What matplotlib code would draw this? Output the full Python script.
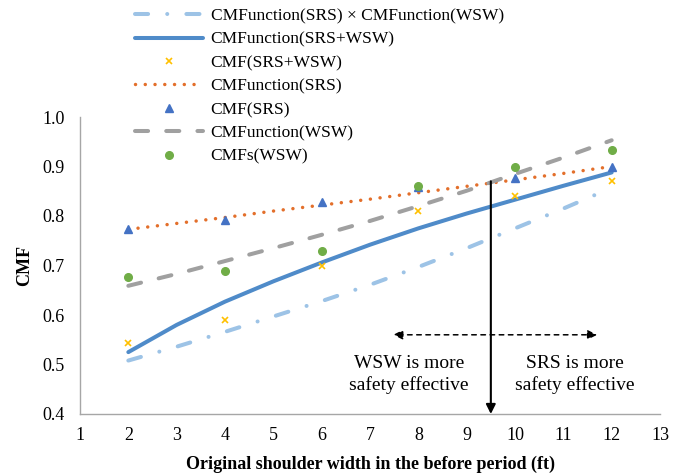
import matplotlib
matplotlib.use("Agg")
import matplotlib.pyplot as plt

plt.rcParams['font.family'] = ['Liberation Serif', 'DejaVu Serif']

# Curve x positions
x_curve = [2, 3, 4, 5, 6, 7, 8, 9, 10, 11, 12]
product_fn = [0.508, 0.536, 0.566, 0.597, 0.628, 0.661, 0.697, 0.735, 0.775, 0.815, 0.857]
combined_fn = [0.525, 0.580, 0.627, 0.668, 0.706, 0.742, 0.775, 0.805, 0.833, 0.861, 0.888]
srs_fn = [0.773, 0.785, 0.797, 0.810, 0.822, 0.834, 0.847, 0.860, 0.873, 0.886, 0.900]
wsw_fn = [0.659, 0.683, 0.709, 0.735, 0.762, 0.790, 0.820, 0.851, 0.885, 0.918, 0.953]

# Point estimates
x_pts = [2, 4, 6, 8, 10, 12]
cmf_combined = [0.544, 0.589, 0.699, 0.811, 0.841, 0.871]
cmf_srs = [0.773, 0.792, 0.828, 0.859, 0.877, 0.900]
cmf_wsw = [0.677, 0.688, 0.730, 0.861, 0.900, 0.934]

labels = ["CMFunction(SRS) × CMFunction(WSW)", "CMFunction(SRS+WSW)", "CMF(SRS+WSW)",
          "CMFunction(SRS)", "CMF(SRS)", "CMFunction(WSW)", "CMFs(WSW)"]

x_ticks = list(range(1, 14))
y_ticks = [0.4, 0.5, 0.6, 0.7, 0.8, 0.9, 1.0]

threshold_x = 9.5
threshold_y = 0.87

fig = plt.figure(figsize=(6.73, 4.76), dpi=100)
ax = fig.add_axes([80/673, 1-414/476, (660-80)/673, (414-117)/476])

h1, = ax.plot(x_curve, product_fn, color='#9DC3E6', lw=2.9, linestyle=(0, (3.25, 4.75, 0.01, 4.75)),
              dash_capstyle='round', solid_capstyle='round')
h2, = ax.plot(x_curve, combined_fn, color='#4F8BC9', lw=2.9, solid_capstyle='round')
h3, = ax.plot(x_pts, cmf_combined, linestyle='none', marker='x', color='#FFC000', ms=5, mew=1.2)
h4, = ax.plot(x_curve, srs_fn, color='#E36F2B', lw=2.5, linestyle=(0, (0.01, 2.8)), dash_capstyle='round')
h5, = ax.plot(x_pts, cmf_srs, linestyle='none', marker='^', color='#4472C4', ms=6)
h6, = ax.plot(x_curve, wsw_fn, color='#A0A0A0', lw=2.9, linestyle=(0, (3.25, 4.5)), dash_capstyle='round')
h7, = ax.plot(x_pts, cmf_wsw, linestyle='none', marker='o', color='#70AD47', ms=5.5)

ax.set_xlim(1, 13)
ax.set_ylim(0.4, 1.0)
ax.set_xticks(x_ticks)
ax.set_yticks(y_ticks)
ax.set_yticklabels([f"{v:.1f}" for v in y_ticks])
ax.tick_params(length=0, labelsize=13)
ax.tick_params(axis='y', pad=11)
ax.tick_params(axis='x', pad=9.5)
for s in ['top', 'right']:
    ax.spines[s].set_visible(False)
for s in ['left', 'bottom']:
    ax.spines[s].set_color('#A6A6A6')
    ax.spines[s].set_linewidth(1.0)

ax.set_xlabel("Original shoulder width in the before period (ft)", fontsize=13, fontweight='bold', labelpad=8.5)
ax.set_ylabel("CMF", fontsize=13, fontweight='bold', labelpad=7)

# Threshold arrow
ax.annotate("", xy=(threshold_x, 0.4), xytext=(threshold_x, threshold_y),
            arrowprops=dict(arrowstyle='-|>', color='black', lw=1.5, mutation_scale=14,
                            shrinkA=0, shrinkB=0))
# Double dashed arrow
ax.annotate("", xy=(7.48, 0.56), xytext=(11.70, 0.56),
            arrowprops=dict(arrowstyle='<|-|>', color='black', lw=1.1, linestyle=(0, (3, 3)),
                            mutation_scale=14, shrinkA=0, shrinkB=0))
ax.text(7.81, 0.479, "WSW is more\nsafety effective", ha='center', va='center', fontsize=14, linespacing=1.3)
ax.text(11.24, 0.479, "SRS is more\nsafety effective", ha='center', va='center', fontsize=14, linespacing=1.3)

fig.legend([h1, h2, h3, h4, h5, h6, h7], labels, loc='upper left',
           bbox_to_anchor=(135/673, 1-8/476), frameon=False, borderpad=0, borderaxespad=0,
           handlelength=3.9, handletextpad=0.46, labelspacing=0.42, fontsize=12.5, numpoints=1)

fig.savefig("out.png", dpi=100)
